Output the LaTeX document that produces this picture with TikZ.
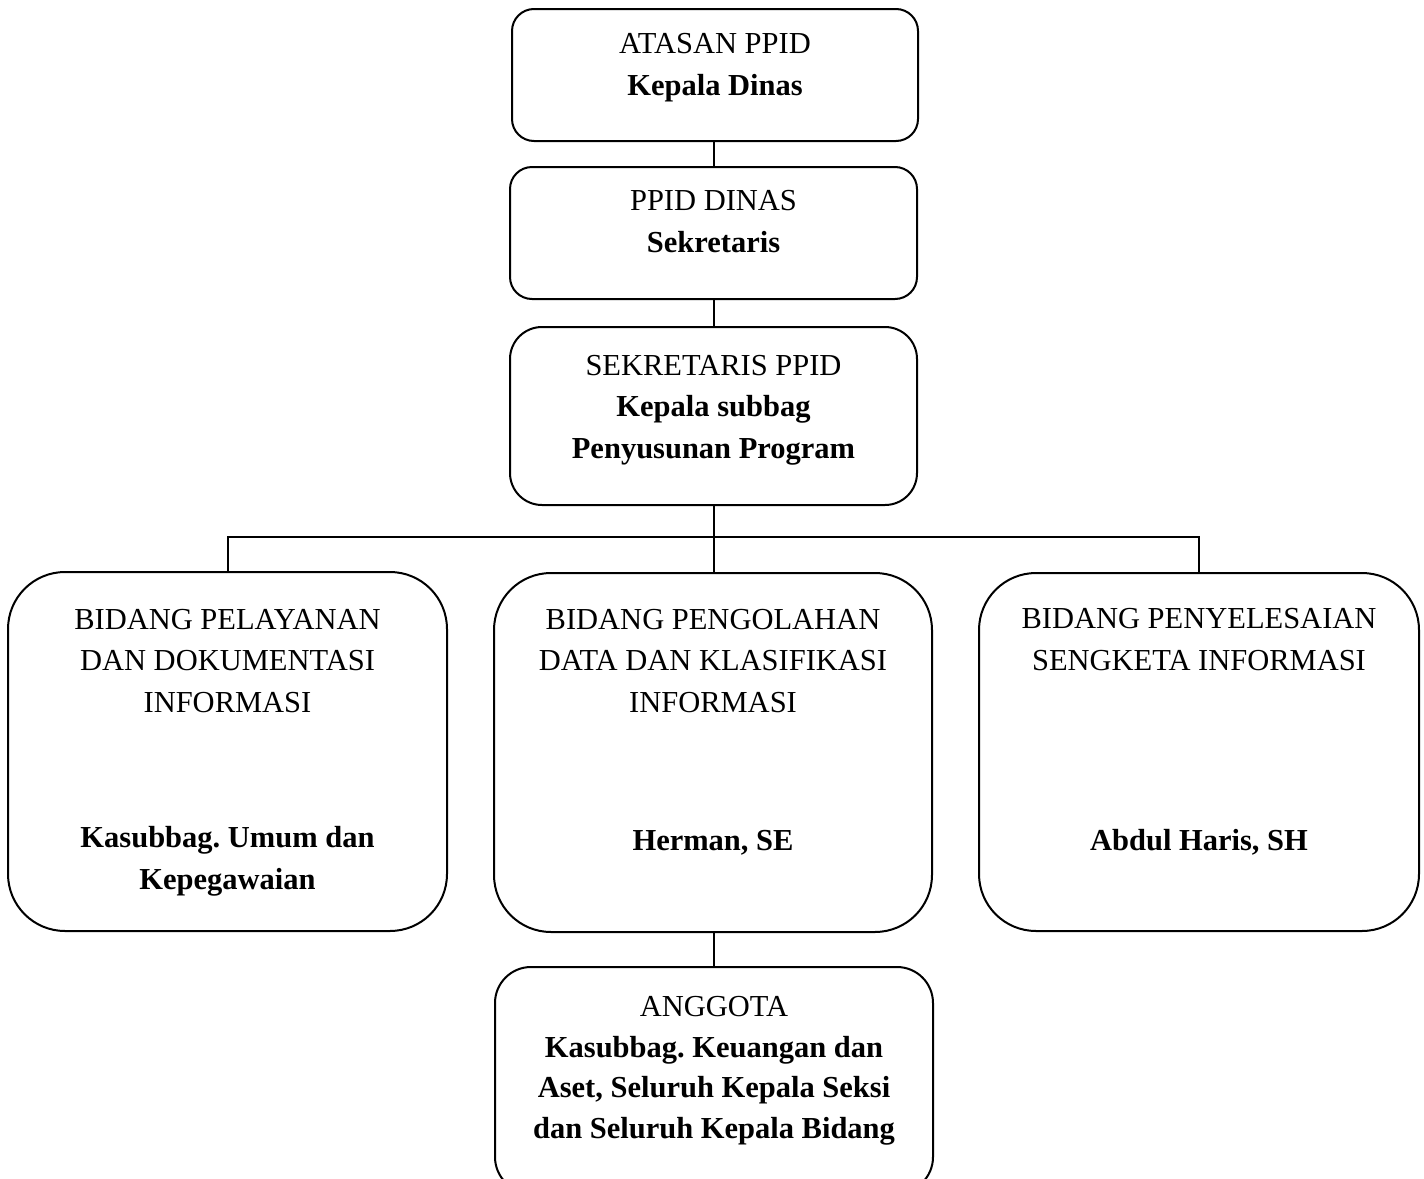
\documentclass[tikz,border=0pt]{standalone}
\usepackage{fontspec}
\setmainfont{Liberation Serif}
\frenchspacing
\begin{document}
\begin{tikzpicture}[x=1pt,y=-1pt,
  box/.style={draw,line width=2pt,rounded corners=#1,inner sep=0pt},
  box/.default=22pt,
  lbl/.style={align=center,anchor=base,inner sep=0pt,font=\fontsize{30.5}{41.5}\selectfont},
  conn/.style={line width=2pt}]
\useasboundingbox (0,0) rectangle (1424,1178);
\clip (0,0) rectangle (1424,1178);
% boxes
\node[box=22pt,minimum width=406pt,minimum height=132pt] (b1) at (715,75) {};
\node[box=22pt,minimum width=407pt,minimum height=132pt] (b2) at (713.5,233) {};
\node[box=32pt,minimum width=407pt,minimum height=178pt] (b3) at (713.5,416) {};
\node[box=57pt,minimum width=439pt,minimum height=359pt] (b4) at (227.5,751.5) {};
\node[box=57pt,minimum width=438pt,minimum height=359pt] (b5) at (713,752.5) {};
\node[box=57pt,minimum width=440pt,minimum height=358pt] (b6) at (1199,752) {};
\node[box=36pt,minimum width=438pt,minimum height=226pt] (b7) at (714,1080) {};
% labels (anchor = baseline of last line)
\node[lbl] (t1) at (715,95) {ATASAN PPID\\\textbf{Kepala Dinas}};
\node[lbl] (t2) at (713.5,252) {PPID DINAS\\\textbf{Sekretaris}};
\node[lbl] (t3) at (713.5,458) {SEKRETARIS PPID\\\textbf{Kepala subbag}\\\textbf{Penyusunan Program}};
\node[lbl] (t4a) at (227.5,712) {BIDANG PELAYANAN\\DAN DOKUMENTASI\\INFORMASI};
\node[lbl] (t4b) at (227.5,889) {\textbf{Kasubbag. Umum dan}\\\textbf{Kepegawaian}};
\node[lbl] (t5a) at (713,712) {BIDANG PENGOLAHAN\\DATA DAN KLASIFIKASI\\INFORMASI};
\node[lbl] (t5b) at (713,850) {\textbf{Herman, SE}};
\node[lbl] (t6a) at (1199,670) {BIDANG PENYELESAIAN\\SENGKETA INFORMASI};
\node[lbl] (t6b) at (1199,850) {\textbf{Abdul Haris, SH}};
\node[lbl,font=\fontsize{30.5}{40.5}\selectfont] (t7) at (714,1138) {ANGGOTA\\\textbf{Kasubbag. Keuangan dan}\\\textbf{Aset, Seluruh Kepala Seksi}\\\textbf{dan Seluruh Kepala Bidang}};
% connectors
\coordinate (hub) at (714,537);
\draw[conn] (b1.south -| hub) -- (b2.north -| hub);
\draw[conn] (b2.south -| hub) -- (b3.north -| hub);
\draw[conn] (b3.south -| hub) -- (hub);
\draw[conn] (b4.north) |- (hub) -| (b6.north);
\draw[conn] (hub) -- (b5.north -| hub);
\draw[conn] (b5.south -| hub) -- (b7.north -| hub);
\end{tikzpicture}
\end{document}
